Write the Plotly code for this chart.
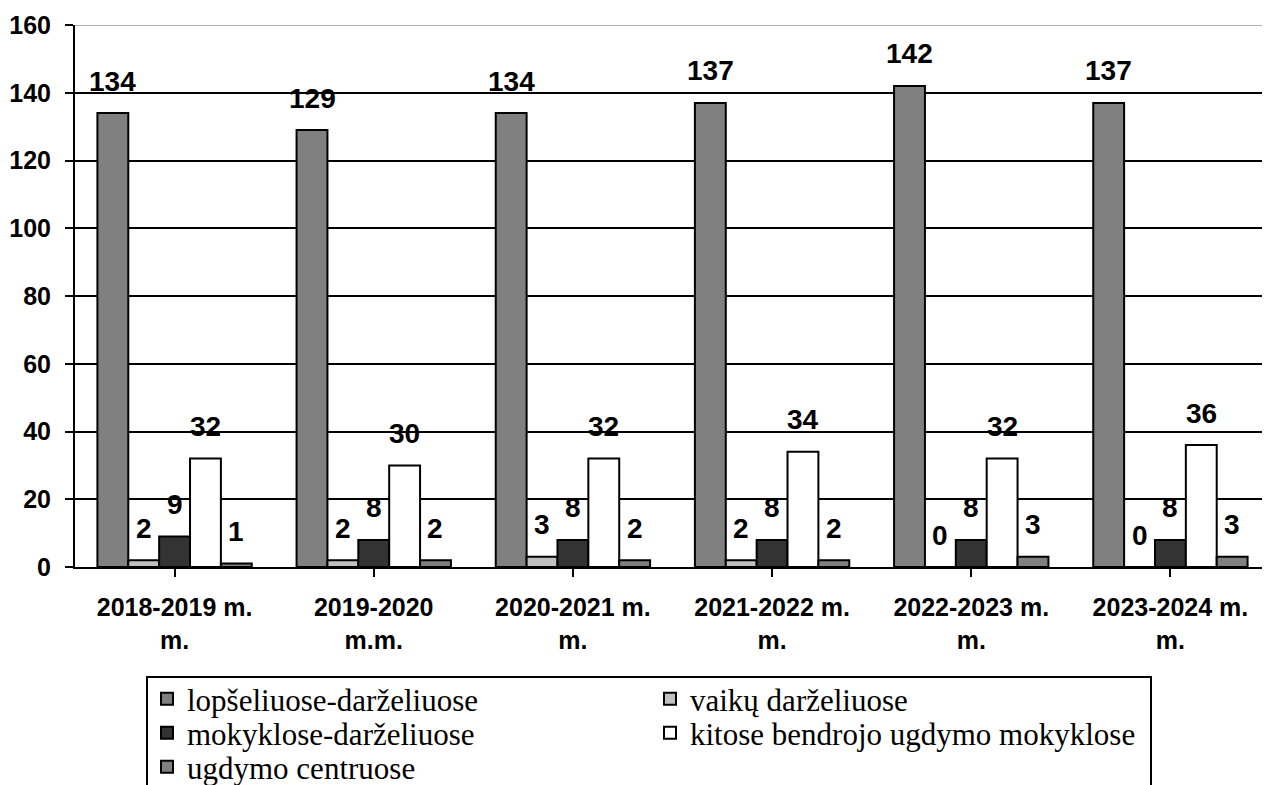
import plotly.graph_objects as go

categories = ["2018-2019 m.<br>m.", "2019-2020<br>m.m.", "2020-2021 m.<br>m.",
              "2021-2022 m.<br>m.", "2022-2023 m.<br>m.", "2023-2024 m.<br>m."]
series_names = ["lopšeliuose-darželiuose", "vaikų darželiuose", "mokyklose-darželiuose",
                "kitose bendrojo ugdymo mokyklose", "ugdymo centruose"]
lopseliuose = [134, 129, 134, 137, 142, 137]
vaiku = [2, 2, 3, 2, 0, 0]
mokyklose = [9, 8, 8, 8, 8, 8]
kitose = [32, 30, 32, 34, 32, 36]
ugdymo = [1, 2, 2, 2, 3, 3]
y_ticks = [0, 20, 40, 60, 80, 100, 120, 140, 160]

series_values = [lopseliuose, vaiku, mokyklose, kitose, ugdymo]
colors = ["#808080", "#c0c0c0", "#333333", "#ffffff", "#808080"]
legend_ids = ["legend", "legend", "legend2", "legend2", "legend3"]

# page body has an 8px default margin; compensate so the plot lands where the reference has it
OFF = 8
W, H = 1270 - OFF, 785 - OFF
ML, MR, MT, MB = 75 - OFF, 0, 25 - OFF, 785 - 567
PW, PH = W - ML - MR, H - MT - MB
BARGAP = 0.225

AX_FONT = dict(family="Liberation Sans, Arial, sans-serif", size=25, color="black", weight="bold")
LBL_FONT = dict(family="Liberation Sans, Arial, sans-serif", size=28, color="black", weight="bold")
LEG_FONT = dict(family="Liberation Serif", size=31, color="black")

fig = go.Figure()
for name, vals, col, lg in zip(series_names, series_values, colors, legend_ids):
    fig.add_trace(go.Bar(
        x=categories, y=vals, name=name, legend=lg,
        marker=dict(color=col, line=dict(color="black", width=2)),
        hoverinfo="x+y+name",
    ))

# data labels above each bar
n = len(series_values)
bw = (1 - BARGAP) / n
ann = []
for j, vals in enumerate(series_values):
    for i, v in enumerate(vals):
        ann.append(dict(x=i + (j - (n - 1) / 2) * bw, y=v, xref="x", yref="y",
                        text=str(v), showarrow=False, yanchor="middle", yshift=32,
                        font=LBL_FONT))

def px_to_paper_x(px):   # px in screenshot coordinates
    return (px - OFF - ML) / PW

def px_to_paper_y(py):
    return (H - MB - (py - OFF)) / PH

leg_common = dict(orientation="h", entrywidth=458, entrywidthmode="pixels",
                  font=LEG_FONT, bgcolor="rgba(0,0,0,0)", borderwidth=0,
                  xanchor="left", yanchor="middle", x=px_to_paper_x(147),
                  itemwidth=30, traceorder="normal")

fig.update_layout(
    width=W, height=H,
    margin=dict(l=ML, r=MR, t=MT, b=MB, autoexpand=False),
    paper_bgcolor="white", plot_bgcolor="white",
    barmode="group", bargap=BARGAP, bargroupgap=0,
    showlegend=True,
    legend=dict(leg_common, y=px_to_paper_y(699)),
    legend2=dict(leg_common, y=px_to_paper_y(733)),
    legend3=dict(leg_common, y=px_to_paper_y(767)),
    xaxis=dict(type="category", showline=True, linecolor="black", linewidth=2,
               ticks="outside", ticklen=8, tickwidth=2, tickcolor="black",
               tickfont=AX_FONT, showgrid=False, ticklabelstandoff=9,
               range=[-0.5, len(categories) - 0.5]),
    xaxis2=dict(type="linear", overlaying="x", anchor="y", side="bottom",
                range=[-0.5, len(categories) - 0.5],
                tickmode="array", tickvals=[k - 0.5 for k in range(len(categories) + 1)],
                ticks="outside", ticklen=8, tickwidth=2, tickcolor="black",
                showticklabels=False, showgrid=False, showline=False, zeroline=False),
    yaxis=dict(range=[0, 160], tickmode="array", tickvals=y_ticks,
               showline=True, linecolor="black", linewidth=2,
               ticks="outside", ticklen=8, tickwidth=2, tickcolor="black",
               tickfont=AX_FONT, showgrid=True, gridcolor="black", gridwidth=2,
               zeroline=False, ticklabelstandoff=9),
    annotations=ann,
    shapes=[
        dict(type="line", xref="paper", yref="y", x0=0, x1=1, y0=160, y1=160,
             line=dict(color="#b4b4b4", width=2), layer="above"),
        dict(type="rect", xref="paper", yref="paper",
             x0=px_to_paper_x(147), x1=px_to_paper_x(1151),
             y0=px_to_paper_y(800), y1=px_to_paper_y(677),
             line=dict(color="black", width=2), fillcolor="rgba(0,0,0,0)", layer="above"),
    ],
)

fig.write_html("out.html")
